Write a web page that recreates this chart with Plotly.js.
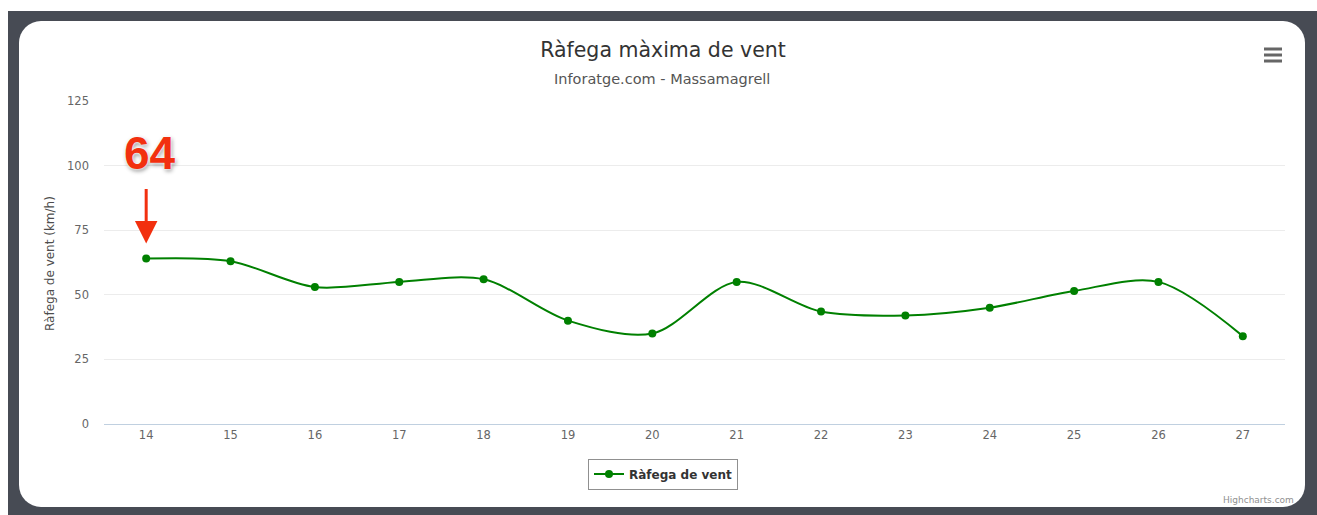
<!DOCTYPE html>
<html>
<head>
<meta charset="utf-8">
<script src="https://cdn.plot.ly/plotly-3.0.1.min.js"></script>
<style>
  html, body { margin: 0; padding: 0; background: #ffffff; }
  #frame { position: absolute; left: 8px; top: 11px; width: 1309px; height: 504px; background: #474b54; }
  #card { position: absolute; left: 19px; top: 21px; width: 1286px; height: 486px; background: #ffffff; border-radius: 22px; }
  #chart { position: absolute; left: 0; top: 0; width: 1317px; height: 515px; }
</style>
</head>
<body>
<div id="frame"></div>
<div id="card"></div>
<div id="chart"></div>
<script>
const days = [14, 15, 16, 17, 18, 19, 20, 21, 22, 23, 24, 25, 26, 27];
const gust = [64, 63, 53, 55, 56, 40, 35, 55, 43.5, 42, 45, 51.5, 55, 34];
const yTicks = [0, 25, 50, 75, 100, 125];

const FONT = '"DejaVu Sans", Verdana, sans-serif';
const RED = '#f2300f';

const trace = {
  x: days,
  y: gust,
  type: 'scatter',
  mode: 'lines+markers',
  name: 'Ràfega de vent',
  line: { color: '#008000', width: 2, shape: 'spline', smoothing: 0.9 },
  marker: { color: '#008000', size: 8 },
  hoverinfo: 'x+y'
};

const layout = {
  width: 1317,
  height: 515,
  paper_bgcolor: 'rgba(0,0,0,0)',
  plot_bgcolor: 'rgba(0,0,0,0)',
  margin: { l: 104, r: 32, t: 101, b: 91 },
  font: { family: FONT, color: '#666' },
  title: {
    text: 'Ràfega màxima de vent',
    font: { family: FONT, size: 20.5, color: '#333' },
    x: 663 / 1317, xanchor: 'center',
    xref: 'container',
    y: 1 - 50 / 515, yref: 'container', yanchor: 'middle'
  },
  xaxis: {
    range: [13.5, 27.5],
    tickmode: 'array',
    tickvals: days,
    ticktext: days.map(String),
    showgrid: false,
    zeroline: false,
    showline: true,
    linecolor: '#c0d0e0',
    linewidth: 1,
    ticks: '',
    tickfont: { size: 11.5, color: '#666', family: FONT },
    fixedrange: true
  },
  yaxis: {
    range: [0, 125],
    tickmode: 'array',
    tickvals: yTicks,
    ticktext: yTicks.map(String),
    showgrid: true,
    gridcolor: '#ececec',
    gridwidth: 1,
    zeroline: false,
    showline: false,
    ticks: '',
    ticklabelstandoff: 14,
    tickfont: { size: 11.5, color: '#666', family: FONT },
    fixedrange: true
  },
  showlegend: true,
  legend: {
    x: (663 - 104) / 1181, xanchor: 'center',
    y: (424 - 474) / 323, yanchor: 'middle',
    orientation: 'h',
    bordercolor: '#909090',
    borderwidth: 1,
    bgcolor: '#ffffff',
    font: { family: FONT, size: 12, color: '#333', weight: 'bold' },
    itemwidth: 30
  },
  annotations: [
    {
      text: 'Inforatge.com - Massamagrell',
      xref: 'paper', yref: 'paper',
      x: (662 - 104) / 1181, y: (424 - 79) / 323,
      xanchor: 'center', yanchor: 'middle',
      showarrow: false,
      font: { family: FONT, size: 14.5, color: '#555' }
    },
    {
      text: 'Ràfega de vent (km/h)',
      xref: 'paper', yref: 'paper',
      x: (50 - 104) / 1181, y: (424 - 264) / 323,
      xanchor: 'center', yanchor: 'middle',
      textangle: -90,
      showarrow: false,
      font: { family: FONT, size: 12, color: '#4d4d4d' }
    },
    {
      text: 'Highcharts.com',
      xref: 'paper', yref: 'paper',
      x: (1296 - 104) / 1181, y: (424 - 500) / 323,
      xanchor: 'right', yanchor: 'middle',
      showarrow: false,
      font: { family: FONT, size: 9, color: '#909090' }
    },
    {
      text: '',
      xref: 'x', yref: 'y',
      x: days[0], y: gust[0],
      ax: 0, ay: -71,
      showarrow: true,
      arrowhead: 2,
      arrowsize: 1.5,
      arrowwidth: 3,
      arrowcolor: RED,
      standoff: 15
    },
    {
      text: '<b>' + gust[0] + '</b>',
      xref: 'x', yref: 'y',
      x: days[0], y: gust[0],
      xshift: 4, yshift: 106,
      xanchor: 'center', yanchor: 'middle',
      showarrow: false,
      font: { family: '"Liberation Sans", Arial, sans-serif', size: 46, color: RED,
              shadow: '0 0 2px #fff, 0 0 3px #fff, 1px 2px 4px rgba(0,0,0,0.45)' }
    }
  ],
  shapes: [1.161, 1.1424, 1.1238].map(yy => ({
    type: 'line', xref: 'paper', yref: 'paper',
    x0: (1264 - 104) / 1181, x1: (1282 - 104) / 1181,
    y0: yy, y1: yy,
    line: { color: '#666', width: 3 }
  }))
};

Plotly.newPlot('chart', [trace], layout, { displayModeBar: false, responsive: false });
</script>
</body>
</html>
